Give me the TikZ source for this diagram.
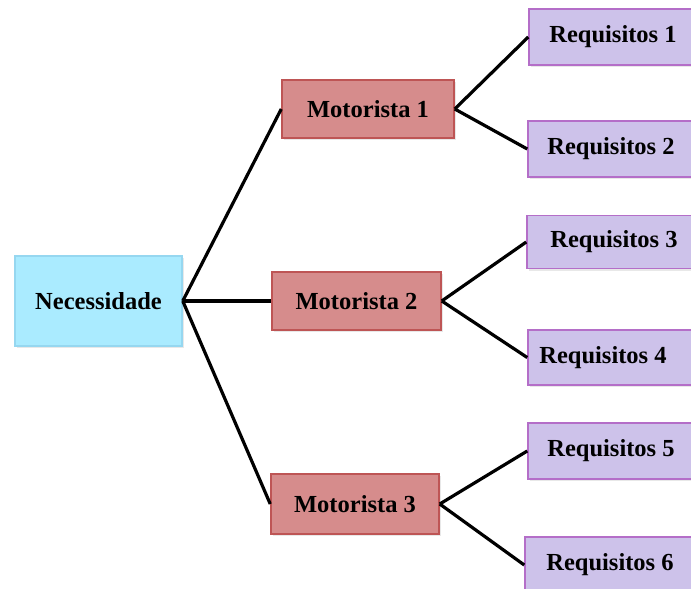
\documentclass[tikz,border=0pt]{standalone}
\usepackage{fontspec}
\setmainfont{Liberation Serif}
\usetikzlibrary{shadows}
\definecolor{needfill}{RGB}{170,235,255}
\definecolor{needdraw}{RGB}{150,215,240}
\definecolor{drvfill}{RGB}{214,140,140}
\definecolor{drvdraw}{RGB}{190,85,85}
\definecolor{reqfill}{RGB}{205,194,234}
\definecolor{reqdraw}{RGB}{180,110,200}
\tikzset{
  box/.style={rectangle, inner sep=0pt, font=\fontsize{24.5}{27}\selectfont\bfseries,
    line width=1.5pt, drop shadow={shadow xshift=1.5pt, shadow yshift=-2pt, opacity=0.18}},
  needbox/.style={box, fill=needfill, draw=needdraw, minimum width=167pt, minimum height=90pt},
  drvbox/.style={box, fill=drvfill, draw=drvdraw, minimum height=58pt},
  reqbox/.style={box, fill=reqfill, draw=reqdraw, minimum width=174pt, minimum height=56pt},
  link/.style={line width=3.2pt, black}
}
\begin{document}
\begin{tikzpicture}[x=1pt,y=-1pt]
  \useasboundingbox (0,0) rectangle (691,589);
  \clip (0,0) rectangle (691,589);
  \fill[white] (0,0) rectangle (691,589);

  % root
  \node[needbox] (need) at (98.5,301) {Necessidade};

  % drivers
  \node[drvbox, minimum width=172pt] (m1) at (368,109) {Motorista 1};
  \node[drvbox, minimum width=169pt] (m2) at (356.5,301) {Motorista 2};
  \node[drvbox, minimum width=168pt, minimum height=60pt] (m3) at (355,504) {Motorista 3};

  % requirements (boxes run past the right margin)
  \node[reqbox] (r1) at (616,37) {\hspace*{-3pt}Requisitos 1\hspace*{3pt}};
  \node[reqbox] (r2) at (615,149) {\hspace*{-4pt}Requisitos 2\hspace*{4pt}};
  \node[reqbox, minimum height=53pt] (r3) at (614,242) {Requisitos 3};
  \node[reqbox, minimum height=55pt] (r4) at (615,357.5) {\hspace*{-12pt}Requisitos 4\hspace*{12pt}};
  \node[reqbox] (r5) at (615,451) {\hspace*{-4pt}Requisitos 5\hspace*{4pt}};
  \node[reqbox] (r6) at (612,565) {\hspace*{-2pt}Requisitos 6\hspace*{2pt}};

  % connectors
  \draw[link] (need.east) -- (m1.west);
  \draw[link] (need.east) -- (m2.west);
  \draw[link] (need.east) -- (m3.west);
  \draw[link] (m1.east) -- (r1.west);
  \draw[link] (m1.east) -- (r2.west);
  \draw[link] (m2.east) -- (r3.west);
  \draw[link] (m2.east) -- (r4.west);
  \draw[link] (m3.east) -- (r5.west);
  \draw[link] (m3.east) -- (r6.west);
\end{tikzpicture}
\end{document}
